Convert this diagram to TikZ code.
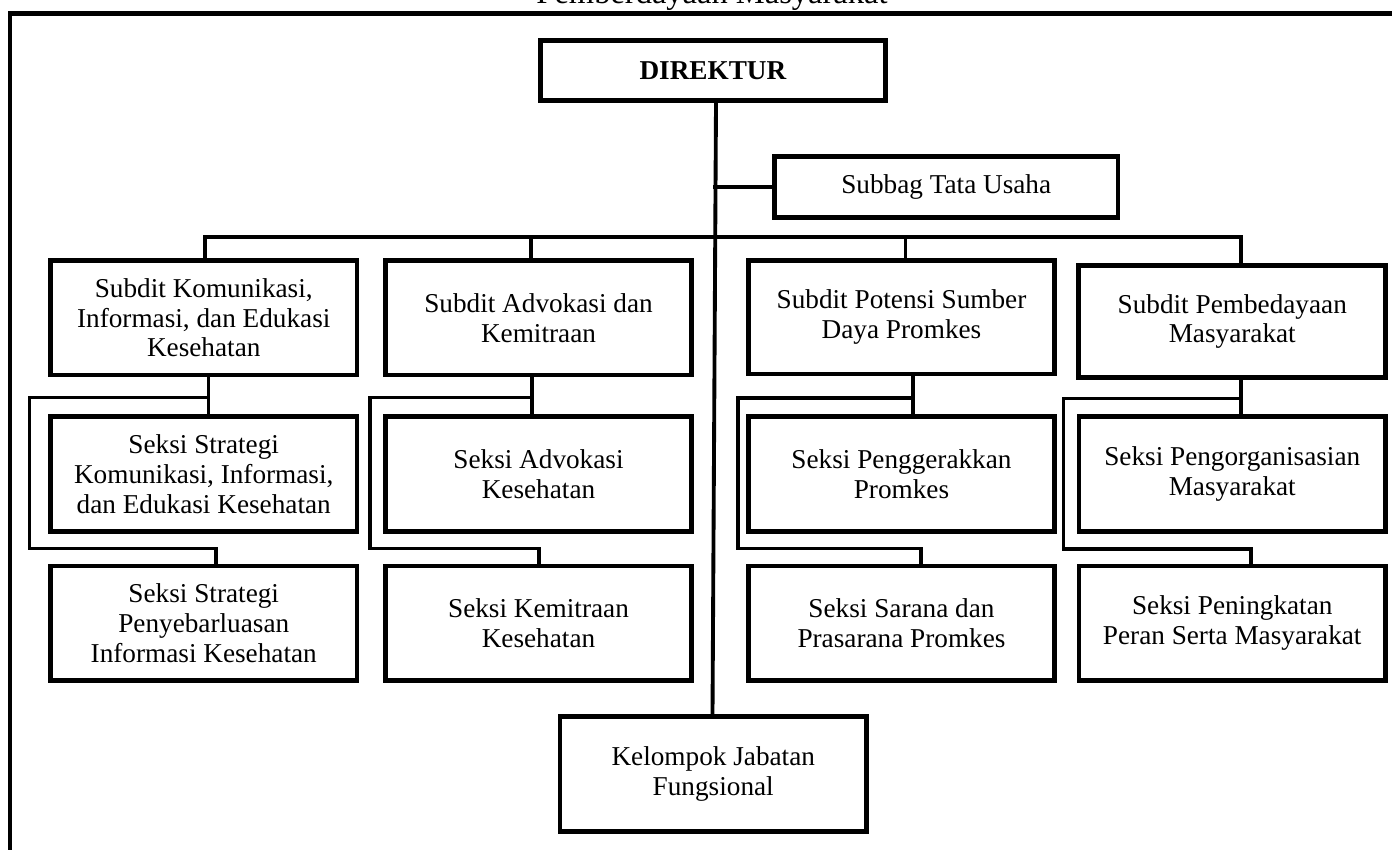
\documentclass[tikz,border=0pt]{standalone}
\usepackage{fontspec}
\setmainfont{Liberation Serif}
\usetikzlibrary{calc}
\begin{document}
\begin{tikzpicture}[x=0.02cm,y=-0.02cm,
  box/.style={draw, line width=2.8pt, align=center, inner sep=0pt,
    font=\fontsize{15.5}{17}\selectfont},
  size/.style 2 args={minimum width=#1*0.02cm, minimum height=#2*0.02cm},
  conn/.style={line width=2.2pt},
  frame/.style={line width=2.6pt}]
\useasboundingbox (0,0) rectangle (1392,849);

% heading (partly above the page edge) and outer frame
\node[font=\fontsize{18.5}{20}\selectfont, anchor=base, inner sep=0pt] (title) at (712,3.5) {Pemberdayaan Masyarakat};
\coordinate (fbl) at (10,900);
\coordinate (ftl) at (10,13.5);
\coordinate (ftr) at (1450,13.5);
\draw[frame] (fbl) -- (ftl) -- (ftr);

% top level
\node[box,size={345}{60}] (dir) at (713,70.5) {\textbf{DIREKTUR}};
\node[box,size={343.5}{61}] (stu) at (946.25,187) {Subbag Tata Usaha};

% sub-directorates
\node[box,size={306.5}{114.5}] (kom) at (203.75,317.75) {Subdit Komunikasi,\\Informasi, dan Edukasi\\Kesehatan};
\node[box,size={306}{114.5}]   (adv) at (538.5,317.75) {Subdit Advokasi dan\\Kemitraan};
\node[box,size={306}{113.5}]   (pot) at (901.5,317.25) {Subdit Potensi Sumber\\Daya Promkes};
\node[box,size={307}{112}]     (pem) at (1232.25,321.5) {Subdit Pembedayaan\\Masyarakat};

% sections, first row
\node[box,size={306.5}{115}] (s11) at (203.75,474) {Seksi Strategi\\Komunikasi, Informasi,\\dan Edukasi Kesehatan};
\node[box,size={306}{115}]   (s21) at (538.5,474) {Seksi Advokasi\\Kesehatan};
\node[box,size={306}{115}]   (s31) at (901.5,474) {Seksi Penggerakkan\\Promkes};
\node[box,size={306.5}{115}] (s41) at (1232.25,474) {Seksi Pengorganisasian\\Masyarakat};

% sections, second row
\node[box,size={306.5}{114.5}] (s12) at (203.75,623.25) {Seksi Strategi\\Penyebarluasan\\Informasi Kesehatan};
\node[box,size={306}{114.5}]   (s22) at (538.5,623.25) {Seksi Kemitraan\\Kesehatan};
\node[box,size={306}{114.5}]   (s32) at (901.5,623.25) {Seksi Sarana dan\\Prasarana Promkes};
\node[box,size={306.5}{114.5}] (s42) at (1232.25,623.25) {Seksi Peningkatan\\Peran Serta Masyarakat};

% functional group
\node[box,size={306.5}{115}] (kjf) at (713.25,774) {Kelompok Jabatan\\Fungsional};

% main spine and staff branch
\draw[conn] ($(dir.south)+(3,0)$) -- ($(kjf.north)+(-0.75,0)$);
\draw[conn] (stu.west) -- ++(-59,0);

% bus to the sub-directorates
\coordinate (b1) at (205,237);
\coordinate (b2) at (531,237);
\coordinate (b3) at (905.5,237);
\coordinate (b4) at (1241,237);
\draw[conn] (b1 |- kom.north) -- (b1) -- (b4) -- (b4 |- pem.north);
\draw[conn] (b2) -- (b2 |- adv.north);
\draw[conn] (b3) -- (b3 |- pot.north);

% sub-directorate to section links
\coordinate (j1) at (208.5,397.5);  \coordinate (l1) at (29.5,548.5);  \coordinate (e1) at (216,548.5);
\coordinate (j2) at (532,397.5);    \coordinate (l2) at (370,548.5);   \coordinate (e2) at (539,548.5);
\coordinate (j3) at (913,398);      \coordinate (l3) at (738,548.5);   \coordinate (e3) at (921,548.5);
\coordinate (j4) at (1241,398.5);   \coordinate (l4) at (1063.5,549);  \coordinate (e4) at (1251,549);

\draw[conn] (kom.south -| j1) -- (j1 |- s11.north);
\draw[conn] (j1) -| (l1) -- (e1) -- (e1 |- s12.north);
\draw[conn] (adv.south -| j2) -- (j2 |- s21.north);
\draw[conn] (j2) -| (l2) -- (e2) -- (e2 |- s22.north);
\draw[conn] (pot.south -| j3) -- (j3 |- s31.north);
\draw[conn] (j3) -| (l3) -- (e3) -- (e3 |- s32.north);
\draw[conn] (pem.south -| j4) -- (j4 |- s41.north);
\draw[conn] (j4) -| (l4) -- (e4) -- (e4 |- s42.north);
\end{tikzpicture}
\end{document}
